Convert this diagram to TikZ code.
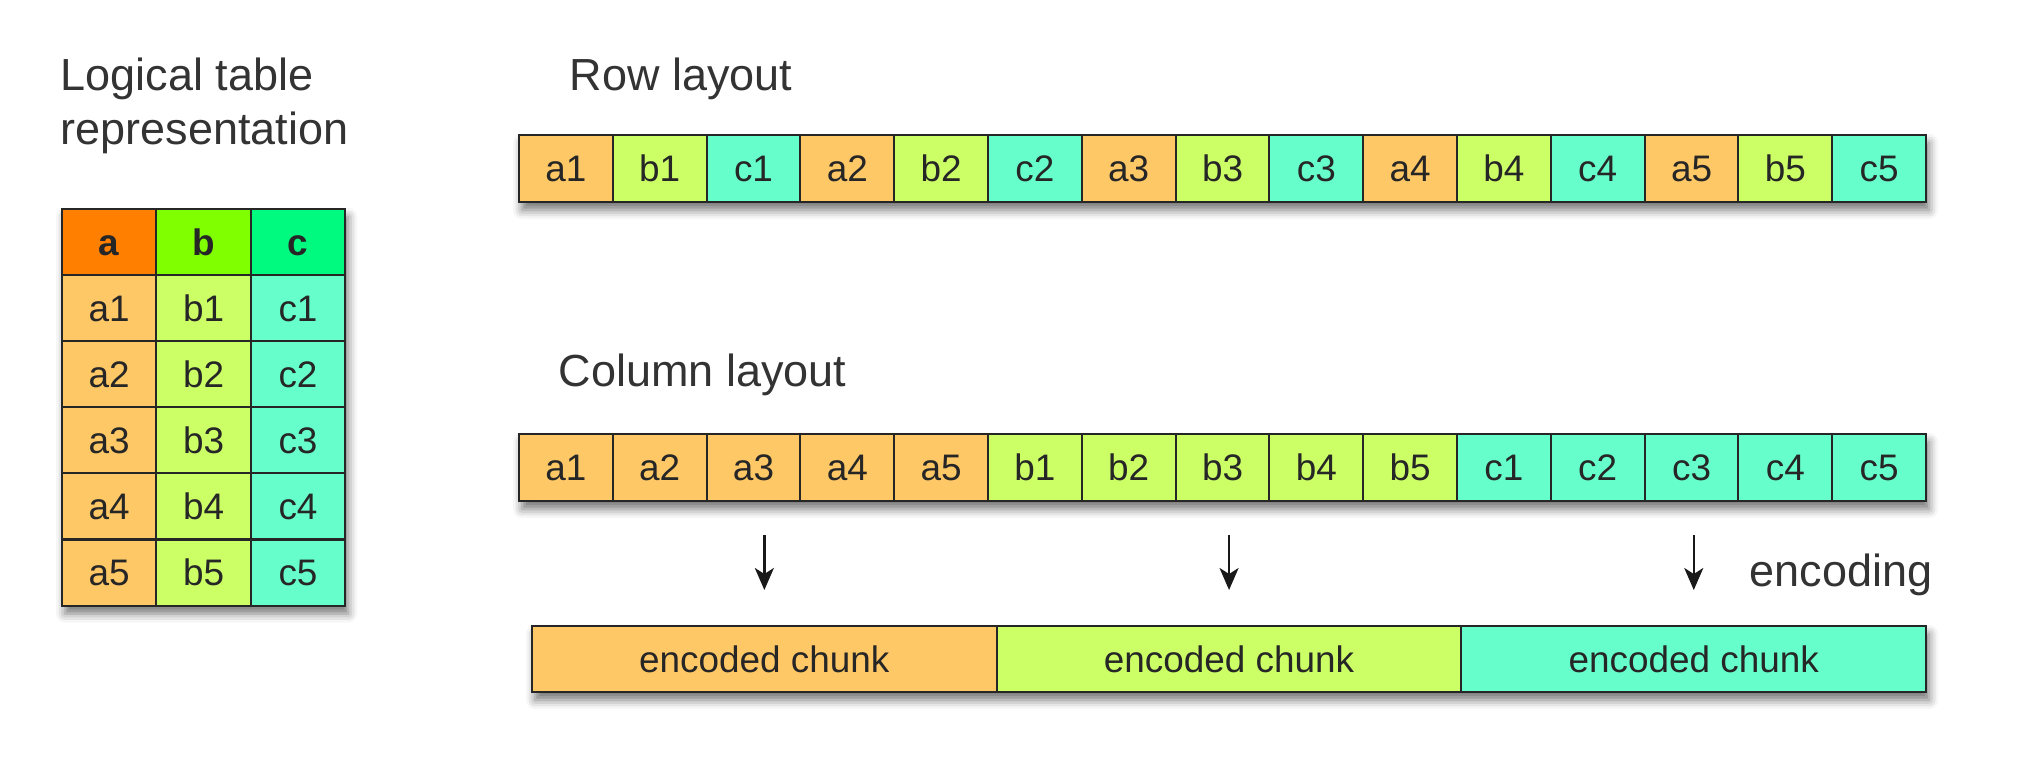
\documentclass[tikz,border=0pt]{standalone}
\usepackage{fontspec}
\setmainfont{Liberation Sans}
\usetikzlibrary{positioning,fit,backgrounds,shadows.blur,arrows.meta}

\definecolor{hdra}{RGB}{255,128,0}
\definecolor{hdrb}{RGB}{128,255,0}
\definecolor{hdrc}{RGB}{0,250,128}
\definecolor{cella}{RGB}{255,200,102}
\definecolor{cellb}{RGB}{204,255,102}
\definecolor{cellc}{RGB}{102,255,204}

\tikzset{
  cell/.style={draw=black!85, line width=0.6pt, outer sep=0pt, inner sep=0pt,
    text=black!85, minimum width=9.38mm, minimum height=6.7mm,
    text height=7.6pt, text depth=0pt,
    font=\fontsize{10.5}{12}\selectfont},
  title/.style={inner sep=0pt, text=black!80, font=\fontsize{12.8}{15.4}\selectfont},
  shadowbox/.style={fill=white, inner sep=0pt,
    blur shadow={shadow xshift=0.3mm, shadow yshift=-0.8mm,
      shadow blur radius=0.9mm, shadow opacity=55}},
  arr/.style={-{Stealth[length=2.2mm,width=1.9mm,inset=0.6mm]}, line width=0.7pt,
    black!90, shorten <=3.4mm, shorten >=3.6mm},
}

\begin{document}
\begin{tikzpicture}[x=0.1mm,y=-0.1mm]
  \useasboundingbox (0,0) rectangle (2020,770);

  \node[title, anchor=north west, align=left] (tabtitle) at (60,57) {Logical table\\representation};
  \node[title, anchor=base west] (rowtitle) at (569,90) {Row layout};
  \node[title, anchor=base west] (coltitle) at (558,386) {Column layout};

  % logical table
  \foreach \col [count=\k] in {a,b,c} {
    \node[cell, fill=hdr\col, minimum width=9.44mm, minimum height=6.61mm]
      (T\col0) at ({62+94.4*(\k-0.5)},242) {\bfseries\col};
    \foreach \i in {1,...,5}
      \node[cell, fill=cell\col, minimum width=9.44mm, minimum height=6.61mm]
        (T\col\i) at ({62+94.4*(\k-0.5)},{242+66.1*\i}) {\col\i};
  }

  % row layout
  \foreach \i in {1,...,5} {
    \foreach \col [count=\k] in {a,b,c} {
      \pgfmathtruncatemacro\m{3*(\i-1)+\k}
      \node[cell, fill=cell\col] (R\m) at ({519+93.8*(\m-0.5)},168.5) {\col\i};
    }
  }

  % column layout
  \foreach \col [count=\k] in {a,b,c} {
    \foreach \i in {1,...,5} {
      \pgfmathtruncatemacro\m{5*(\k-1)+\i}
      \node[cell, fill=cell\col] (C\m) at ({519+93.8*(\m-0.5)},467.5) {\col\i};
    }
  }

  % encoded chunks
  \foreach \col [count=\k] in {a,b,c}
    \node[cell, fill=cell\col, minimum width=46.47mm, minimum height=6.6mm]
      (K\k) at ({532+464.7*(\k-0.5)},659) {encoded chunk};

  \foreach \k in {1,2,3}
    \draw[arr] (C3.south -| K\k.north) -- (K\k.north);
  \node[title, anchor=base west] (enclabel) at (1749,586) {encoding};

  \begin{scope}[on background layer]
    \node[shadowbox, fit=(Ta0)(Tc5)] (tabshadow) {};
    \node[shadowbox, fit=(R1)(R15)] (rowshadow) {};
    \node[shadowbox, fit=(C1)(C15)] (colshadow) {};
    \node[shadowbox, fit=(K1)(K3)] (encshadow) {};
  \end{scope}
\end{tikzpicture}
\end{document}
